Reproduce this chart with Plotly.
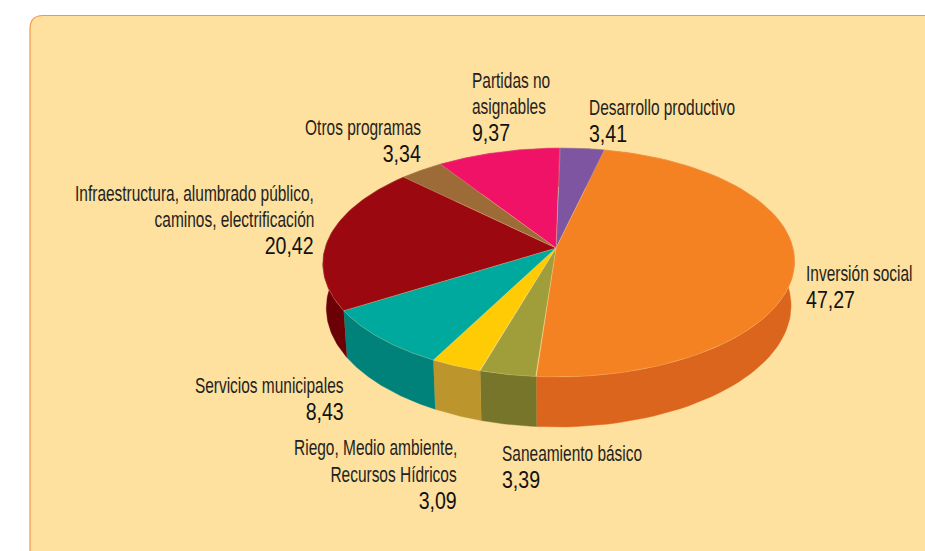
import numpy as np
import plotly.graph_objects as go

labels = ["Desarrollo productivo", "Inversión social", "Saneamiento básico",
          "Riego, Medio ambiente,<br>Recursos Hídricos", "Servicios municipales",
          "Infraestructura, alumbrado público,<br>caminos, electrificación",
          "Otros programas", "Partidas no<br>asignables"]
values = [3.41, 47.27, 3.39, 3.09, 8.43, 20.42, 3.34, 9.37]
value_text = ["3,41", "47,27", "3,39", "3,09", "8,43", "20,42", "3,34", "9,37"]
top_colors = ["#7D55A1", "#F58222", "#9F9E3B", "#FFCB05", "#00A99D", "#9B080F", "#9C6B38", "#EF1266"]
side_colors = ["#5A3C78", "#DB651D", "#77752A", "#BC962C", "#00827A", "#6B0006", "#70491F", "#A80C47"]

# label anchors: x, y of the first line centre, alignment
label_pos = [(589, 107, "left"), (806, 273, "left"), (502, 453.5, "left"), (457, 447.5, "right"),
             (344, 385, "right"), (314, 193, "right"), (421, 127, "right"), (472, 80, "left")]

APEX = (556.0, 248.0)
K = 0.1266
A = 112.66
B = 234.0
DEPTH = 43.7
ROT = -0.5
SKEW = 2.5
SHIFT = 3.0
BOTTOM_X = 0.985


def project(theta_deg, drop=0.0, xscale=1.0):
    t = np.radians(theta_deg + ROT)
    u, v = np.sin(t), np.cos(t)
    d = 1 + K * v
    x = APEX[0] + SHIFT + xscale * B * u / d + SKEW * v
    y = APEX[1] - A * v / d + drop / d
    return x, y


fig = go.Figure()
shares = np.array(values) / np.sum(values) * 360.0
edges = np.concatenate([[0.0], np.cumsum(shares)])

for i in range(len(values)):
    th = np.linspace(edges[i], edges[i + 1], 80)
    x1, y1 = project(th)
    x2, y2 = project(th[::-1], drop=DEPTH, xscale=BOTTOM_X)
    fig.add_trace(go.Scatter(x=np.r_[x1, x2], y=np.r_[y1, y2], fill="toself", mode="lines",
                             fillcolor=side_colors[i], line=dict(color=side_colors[i], width=0.4),
                             hoverinfo="skip", showlegend=False))
for i in range(len(values)):
    th = np.linspace(edges[i], edges[i + 1], 80)
    x1, y1 = project(th)
    fig.add_trace(go.Scatter(x=np.r_[APEX[0], x1, APEX[0]], y=np.r_[APEX[1], y1, APEX[1]],
                             fill="toself", mode="lines", fillcolor=top_colors[i],
                             line=dict(color="rgba(255,225,170,0.45)", width=0.5),
                             hoverinfo="skip", showlegend=False, name=labels[i]))

NAME_FONT = dict(family="Liberation Sans, Arial, sans-serif", size=22, color="#231F20")
VAL_FONT = dict(family="Liberation Sans, Arial, sans-serif", size=23, color="#111111")
LINE = 26.5
NAME_SQUEEZE = 0.703
VAL_SQUEEZE = 0.85
for lab, val, (x, y, al) in zip(labels, value_text, label_pos):
    lines = lab.split("<br>")
    for j, ln in enumerate(lines):
        fig.add_annotation(x=x, y=y + j * LINE, text=ln, showarrow=False, font=NAME_FONT,
                           xanchor=al, yanchor="middle", xref="x", yref="y",
                           borderpad=0, borderwidth=0)
    fig.add_annotation(x=x, y=y + len(lines) * LINE, text=val, showarrow=False, font=VAL_FONT,
                       xanchor=al, yanchor="middle", xref="x", yref="y",
                       borderpad=0, borderwidth=0)

panel = "M 935 15.5 L 43 15.5 Q 30 15.5 30 29 L 30 561 L 935 561 Z"
fig.update_layout(
    margin=dict(l=0, r=0, t=0, b=0), width=925, height=551,
    paper_bgcolor="white", plot_bgcolor="rgba(0,0,0,0)",
    xaxis=dict(range=[0, 925], visible=False, fixedrange=True),
    yaxis=dict(range=[551, 0], visible=False, fixedrange=True),
    shapes=[dict(type="path", path=panel, xref="x", yref="y", layer="below",
                 fillcolor="#FEE09F", line=dict(color="#F7964A", width=1.2))],
)

squeeze_js = """
document.body.style.margin='0';document.body.style.overflow='hidden';
var gd=document.querySelector('.plotly-graph-div');
function squeeze(){
  var anns=gd.layout.annotations;
  document.querySelectorAll('.annotation').forEach(function(g,i){
    var t=g.querySelector('text'); if(!t) return;
    var a=anns[parseInt(g.getAttribute('data-index'))];
    var s=a.font.size==%d?%s:%s;
    t.removeAttribute('transform');
    var b=t.getBBox();
    var cx=a.xanchor=='right'?b.x+b.width:b.x;
    t.setAttribute('transform','translate('+cx+',0) scale('+s+',1) translate('+(-cx)+',0)');
  });
}
squeeze();
""" % (NAME_FONT["size"], NAME_SQUEEZE, VAL_SQUEEZE)
fig.write_html("out.html", config={"displayModeBar": False}, post_script=squeeze_js)
